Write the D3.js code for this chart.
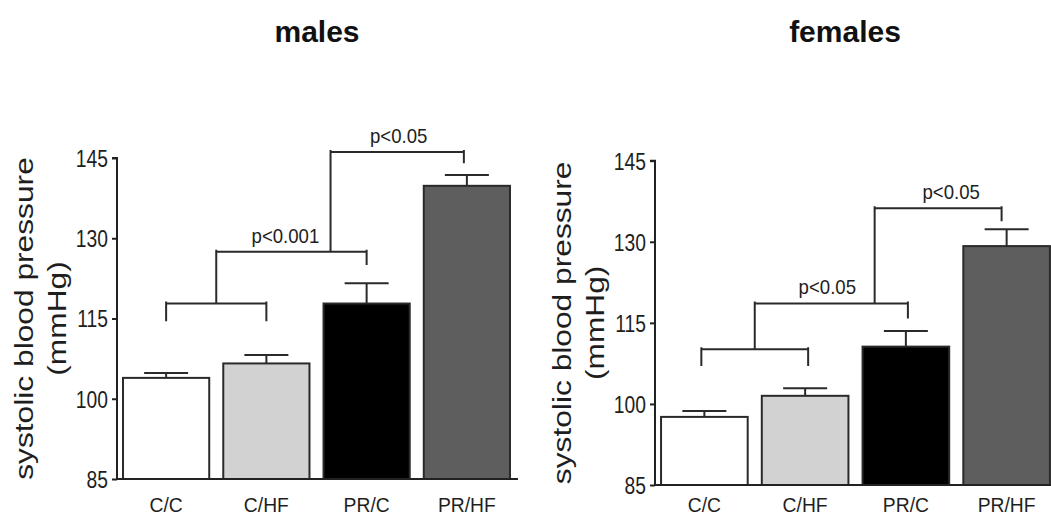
<!DOCTYPE html>
<html lang="en">
<head>
<meta charset="UTF-8">
<title>Systolic blood pressure - males / females</title>
<script src="https://d3js.org/d3.v7.min.js"></script>
<style>
    body { margin: 0; background: #fff; }
    svg { display: block; font-family: "Liberation Sans", Arial, sans-serif; }
    .title { font-size: 30px; font-weight: bold; fill: #111; }
    .tick-label { font-size: 23.5px; fill: #1e1e1e; }
    .cat-label { font-size: 21px; fill: #1e1e1e; }
    .ylab { font-size: 26px; fill: #1e1e1e; }
    .plab { font-size: 20px; fill: #1e1e1e; }
</style>
</head>
<body>
<div id="chart"></div>
<script>
// data
const categories = ["C/C", "C/HF", "PR/C", "PR/HF"];
const malesMean = [103.9, 106.6, 117.8, 139.8];
const malesSem = [0.9, 1.6, 3.8, 2.0];
const femalesMean = [97.6, 101.5, 110.6, 129.2];
const femalesSem = [1.1, 1.4, 2.9, 3.1];
const yTicks = [85, 100, 115, 130, 145];
const barColors = ["#ffffff", "#d2d2d2", "#000000", "#5e5e5e"];

// significance brackets: from/to in category index units, at = value of the bar line,
// left/right = value where each end stops
const malesBrackets = [
    { from: 0, to: 1, at: 117.8, left: 114.5, right: 114.5 },
    { from: 0.5, to: 2, at: 127.5, left: 117.8, right: 125, label: "p<0.001", labelAt: 1.19 },
    { from: 1.64, to: 2.97, at: 146.1, left: 127.5, right: 144, label: "p<0.05", labelAt: 2.32 }
];
const femalesBrackets = [
    { from: -0.03, to: 1.03, at: 110.1, left: 107, right: 107 },
    { from: 0.5, to: 2.02, at: 118.6, left: 110.1, right: 115.8, label: "p<0.05", labelAt: 1.22 },
    { from: 1.69, to: 2.95, at: 136.2, left: 118.6, right: 133.8, label: "p<0.05", labelAt: 2.45 }
];

const W = 1051, H = 517;
const svg = d3.select("#chart").append("svg")
    .attr("width", W).attr("height", H);

function drawPanel(p) {
    const g = svg.append("g");

    const x = d3.scaleBand()
        .domain(categories)
        .range([p.left, p.right])
        .paddingInner(0.14)
        .paddingOuter(0.06);

    const y = d3.scaleLinear()
        .domain([85, 145])
        .range([p.bottom, p.top]);

    const step = x.step();
    const pos = i => x(categories[0]) + x.bandwidth() / 2 + i * step;

    // title
    g.append("text").attr("class", "title")
        .attr("x", p.titleX).attr("y", 42)
        .attr("text-anchor", "middle")
        .text(p.title);

    // bars
    g.selectAll(".bar")
        .data(p.mean)
        .enter().append("rect")
        .attr("x", (d, i) => x(categories[i]))
        .attr("y", d => y(d))
        .attr("width", x.bandwidth())
        .attr("height", d => y(85) - y(d))
        .attr("fill", (d, i) => barColors[i])
        .attr("stroke", "#2a2a2a")
        .attr("stroke-width", 2);

    // error bars (upper only)
    p.mean.forEach((m, i) => {
        const cx = pos(i);
        g.append("line")
            .attr("x1", cx).attr("x2", cx)
            .attr("y1", y(m)).attr("y2", y(m + p.sem[i]))
            .attr("stroke", "#2a2a2a").attr("stroke-width", 2);
        g.append("line")
            .attr("x1", cx - 22).attr("x2", cx + 22)
            .attr("y1", y(m + p.sem[i])).attr("y2", y(m + p.sem[i]))
            .attr("stroke", "#2a2a2a").attr("stroke-width", 2);
    });

    // y axis
    const yAxis = g.append("g")
        .attr("transform", `translate(${p.left},0)`)
        .call(d3.axisLeft(y).tickValues(yTicks).tickSize(5).tickPadding(4).tickFormat(d3.format("d")));
    yAxis.select(".domain").attr("d", `M-5,${y(145)}H0V${y(85)}`)
        .attr("stroke", "#222").attr("stroke-width", 2);
    yAxis.selectAll(".tick line").attr("stroke", "#222").attr("stroke-width", 2);
    yAxis.selectAll(".tick text")
        .attr("class", "tick-label")
        .attr("font-size", null).attr("font-family", null)
        .attr("x", null).attr("dy", "0.36em")
        .attr("transform", "translate(-9,0) scale(0.82,1)");

    // x axis baseline + category labels
    const xAxis = g.append("g")
        .attr("transform", `translate(0,${y(85)})`)
        .call(d3.axisBottom(x).tickSize(0).tickPadding(0));
    xAxis.select(".domain").attr("d", `M${p.left},0H${p.axisEnd}`)
        .attr("stroke", "#222").attr("stroke-width", 2);
    xAxis.selectAll(".tick text")
        .attr("class", "cat-label")
        .attr("font-size", null).attr("font-family", null)
        .attr("y", p.catOffset).attr("dy", null)
        .attr("transform", "scale(0.92,1)")
        .attr("x", 0);

    // y label, two lines
    const cy = (y(85) + y(145)) / 2;
    [["systolic blood pressure", -84], ["(mmHg)", -51]].forEach(([t, dx]) => {
        g.append("text").attr("class", "ylab")
            .attr("text-anchor", "middle")
            .attr("transform", `translate(${p.left + dx},${cy}) rotate(-90) scale(1.22,1)`)
            .text(t);
    });

    // significance brackets
    p.brackets.forEach(b => {
        const x1 = pos(b.from), x2 = pos(b.to);
        const path = `M${x1},${y(b.left)}V${y(b.at) - 2}M${x1},${y(b.at)}H${x2}M${x2},${y(b.at) - 2}V${y(b.right)}`;
        g.append("path").attr("d", path)
            .attr("fill", "none").attr("stroke", "#2a2a2a").attr("stroke-width", 2);
        if (b.label) {
            g.append("text").attr("class", "plab")
                .attr("text-anchor", "middle")
                .attr("transform", `translate(${pos(b.labelAt)},${y(b.at) - 9}) scale(0.93,1)`)
                .text(b.label);
        }
    });
}

drawPanel({
    title: "males", titleX: 317,
    left: 117, right: 516, axisEnd: 518, top: 158, bottom: 479, catOffset: 33,
    mean: malesMean, sem: malesSem, brackets: malesBrackets
});

drawPanel({
    title: "females", titleX: 845,
    left: 655, right: 1056, axisEnd: 1056, top: 160.7, bottom: 485, catOffset: 27,
    mean: femalesMean, sem: femalesSem, brackets: femalesBrackets
});
</script>
</body>
</html>
